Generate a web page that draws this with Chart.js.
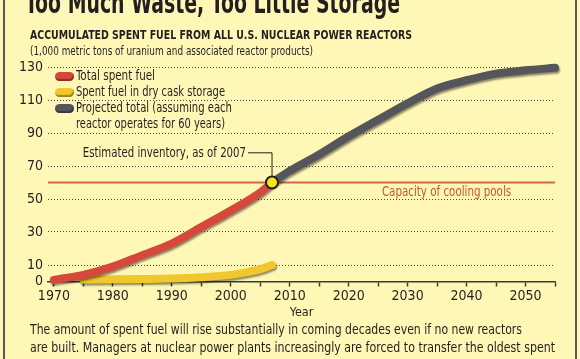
<!DOCTYPE html>
<html>
<head>
<meta charset="utf-8">
<script src="https://cdn.jsdelivr.net/npm/chart.js@4"></script>
<style>
  html, body { margin: 0; padding: 0; }
  body { width: 580px; height: 359px; overflow: hidden; background: #fff7b6; position: relative;
         font-family: 'DejaVu Sans Condensed', 'Liberation Sans', sans-serif; color: #231f20; }
  .frame { position: absolute; top: 0; bottom: 0; width: 2px; background: #5a5a55; }
  #chartBox { position: absolute; left: 0; top: 0; width: 580px; height: 359px; }
  .txt { position: absolute; white-space: nowrap; transform-origin: 0 50%; }
  #title { left: 25px; top: -16px; font-size: 31px; font-weight: bold; }
  #subtitle { left: 30px; top: 27px; font-size: 13px; font-weight: bold; }
  #units { left: 30px; top: 43px; font-size: 12.5px; }
  .leg { left: 76px; font-size: 14.5px; }
  .swatch { position: absolute; left: 55px; width: 19px; height: 9px; border-radius: 5px;
            box-shadow: inset -1px -2px 1px rgba(0,0,0,0.35); }
  .cap { left: 30px; font-size: 14.5px; }
</style>
</head>
<body>
<div class="frame" style="left:3px"></div>
<div class="frame" style="left:575px"></div>
<div id="chartBox"><canvas id="wasteChart" width="580" height="359"></canvas></div>
<div class="txt" id="title" data-w="375">Too Much Waste, Too Little Storage</div>
<div class="txt" id="subtitle" data-w="382">ACCUMULATED SPENT FUEL FROM ALL U.S. NUCLEAR POWER REACTORS</div>
<div class="txt" id="units" data-w="283">(1,000 metric tons of uranium and associated reactor products)</div>

<span class="swatch" style="top:72px;background:#d4493a"></span>
<span class="swatch" style="top:88px;background:#f0c82e"></span>
<span class="swatch" style="top:104px;background:#55565c"></span>
<div class="txt leg" style="top:67px" data-w="79">Total spent fuel</div>
<div class="txt leg" style="top:83px" data-w="149">Spent fuel in dry cask storage</div>
<div class="txt leg" style="top:99px" data-w="156">Projected total (assuming each</div>
<div class="txt leg" style="top:115px" data-w="149">reactor operates for 60 years)</div>

<div class="txt cap" style="top:321px" data-w="492">The amount of spent fuel will rise substantially in coming decades even if no new reactors</div>
<div class="txt cap" style="top:339px" data-w="525">are built. Managers at nuclear power plants increasingly are forced to transfer the oldest spent</div>
<div class="txt cap" style="top:357px" data-w="520">fuel in their cooling pools into dry casks that are stored outside on concrete pads.</div>

<script>
// data
const totalYears = [1970, 1975, 1980, 1985, 1990, 1995, 2000, 2005, 2007];
const totalValues = [1, 4, 9, 16, 23, 33, 43, 54, 60];

const caskYears = [1975, 1980, 1985, 1990, 1995, 2000, 2003, 2005, 2007];
const caskValues = [1.2, 1.3, 1.5, 1.8, 2.6, 4, 5.8, 7.5, 10];

const projYears = [2007, 2010, 2015, 2020, 2025, 2030, 2035, 2040, 2045, 2050, 2055];
const projValues = [60, 67, 77, 88, 98, 108, 117, 122, 126, 128, 129.5];

const inventoryYear = 2007;
const inventoryValue = 60;
const coolingCapacity = 60;

const yTicks = [0, 10, 30, 50, 70, 90, 110, 130];
const xTicks = [1970, 1975, 1980, 1985, 1990, 1995, 2000, 2005, 2010, 2015, 2020, 2025, 2030, 2035, 2040, 2045, 2050, 2055];

const FONT = "'DejaVu Sans Condensed', 'Liberation Sans', sans-serif";

function toPoints(xs, ys) {
  return xs.map((x, i) => ({ x: x, y: ys[i] }));
}

// squeeze the html text to the widths of the original condensed face
function fitTexts() {
  document.querySelectorAll('[data-w]').forEach(function (el) {
    const target = parseFloat(el.getAttribute('data-w'));
    const w = el.getBoundingClientRect().width;
    if (w > 0) el.style.transform = 'scaleX(' + (target / w) + ')';
  });
}

// canvas text, squeezed horizontally
function narrowText(ctx, text, x, y, align, sx) {
  ctx.save();
  ctx.translate(x, y);
  ctx.scale(sx, 1);
  ctx.textAlign = align;
  ctx.textBaseline = 'middle';
  ctx.fillText(text, 0, 0);
  ctx.restore();
}

// soft shadow under the thick lines
const lineShadow = {
  id: 'lineShadow',
  beforeDatasetDraw(chart, args) {
    if (args.index > 2) return;
    const ctx = chart.ctx;
    ctx.save();
    ctx.shadowColor = 'rgba(0,0,0,0.45)';
    ctx.shadowBlur = 2;
    ctx.shadowOffsetX = 1;
    ctx.shadowOffsetY = 2;
  },
  afterDatasetDraw(chart, args) {
    if (args.index > 2) return;
    chart.ctx.restore();
  }
};

// cooling pool line + callout for 2007
const annotations = {
  id: 'annotations',
  beforeDatasetsDraw(chart) {
    const { ctx, chartArea, scales } = chart;
    const y = scales.y.getPixelForValue(coolingCapacity);
    ctx.save();
    ctx.strokeStyle = '#d2694a';
    ctx.lineWidth = 2;
    ctx.beginPath();
    ctx.moveTo(chartArea.left, y);
    ctx.lineTo(chartArea.right, y);
    ctx.stroke();
    ctx.fillStyle = '#c8553a';
    ctx.font = '14.5px ' + FONT;
    narrowText(ctx, 'Capacity of cooling pools', scales.x.getPixelForValue(2036.6), y + 10, 'center', 0.79);
    ctx.restore();
  },
  afterDatasetsDraw(chart) {
    const { ctx, scales } = chart;
    const px = scales.x.getPixelForValue(inventoryYear);
    const py = scales.y.getPixelForValue(inventoryValue);
    const ly = scales.y.getPixelForValue(78);
    ctx.save();
    ctx.strokeStyle = '#231f20';
    ctx.lineWidth = 1;
    ctx.beginPath();
    ctx.moveTo(px - 24, ly);
    ctx.lineTo(px, ly);
    ctx.lineTo(px, py - 6);
    ctx.stroke();
    ctx.fillStyle = '#231f20';
    ctx.font = '14.5px ' + FONT;
    narrowText(ctx, 'Estimated inventory, as of 2007', px - 26, ly, 'right', 0.78);
    ctx.restore();
  }
};

function initializeChart() {
  const ctx = document.getElementById('wasteChart').getContext('2d');
  const lineBase = {
    borderWidth: 8,
    borderCapStyle: 'round',
    borderJoinStyle: 'round',
    cubicInterpolationMode: 'monotone',
    pointRadius: 0,
    fill: false,
    clip: false
  };

  new Chart(ctx, {
    type: 'line',
    data: {
      datasets: [
        Object.assign({ label: 'Projected total', data: toPoints(projYears, projValues), borderColor: '#55565c', order: 3 }, lineBase),
        Object.assign({ label: 'Spent fuel in dry cask storage', data: toPoints(caskYears, caskValues), borderColor: '#f0c82e', order: 2 }, lineBase),
        Object.assign({ label: 'Total spent fuel', data: toPoints(totalYears, totalValues), borderColor: '#d4493a', order: 1 }, lineBase),
        {
          type: 'scatter',
          label: 'Estimated inventory',
          data: [{ x: inventoryYear, y: inventoryValue }],
          pointRadius: 6,
          pointBackgroundColor: '#f5e616',
          pointBorderColor: '#231f20',
          pointBorderWidth: 2,
          order: 0,
          clip: false
        }
      ]
    },
    options: {
      responsive: false,
      animation: false,
      layout: { padding: { left: 0, top: 67, right: 25, bottom: 41.5 } },
      plugins: {
        legend: { display: false },
        tooltip: { enabled: false }
      },
      scales: {
        x: {
          type: 'linear',
          min: 1969,
          max: 2055,
          afterBuildTicks: (scale) => { scale.ticks = xTicks.map(v => ({ value: v })); },
          afterFit: (scale) => { scale.height = 36; },
          ticks: {
            autoSkip: false,
            maxRotation: 0,
            padding: 1,
            color: '#231f20',
            font: { family: FONT, size: 14 },
            callback: (v) => (v % 10 === 0 ? String(v) : '')
          },
          grid: { drawOnChartArea: false, drawTicks: true, tickLength: 5, tickColor: '#3a3a3a', tickWidth: 1.5 },
          border: { display: true, color: '#3a3a3a', width: 1.5 },
          title: {
            display: true,
            text: 'Year',
            color: '#231f20',
            font: { family: FONT, size: 12.5 },
            padding: { top: 2, bottom: -3 }
          }
        },
        y: {
          min: 0,
          max: 130,
          afterBuildTicks: (scale) => { scale.ticks = yTicks.map(v => ({ value: v })); },
          afterFit: (scale) => { scale.width = 48; },
          ticks: {
            padding: 5,
            color: '#231f20',
            font: { family: FONT, size: 14 }
          },
          grid: {
            drawTicks: false,
            lineWidth: 1,
            color: (c) => (c.tick && c.tick.value === 0 ? 'rgba(0,0,0,0)' : '#4a4a44')
          },
          border: { display: false, dash: [1, 2] }
        }
      }
    },
    plugins: [lineShadow, annotations]
  });
}

document.addEventListener('DOMContentLoaded', () => {
  fitTexts();
  initializeChart();
});
</script>
</body>
</html>
